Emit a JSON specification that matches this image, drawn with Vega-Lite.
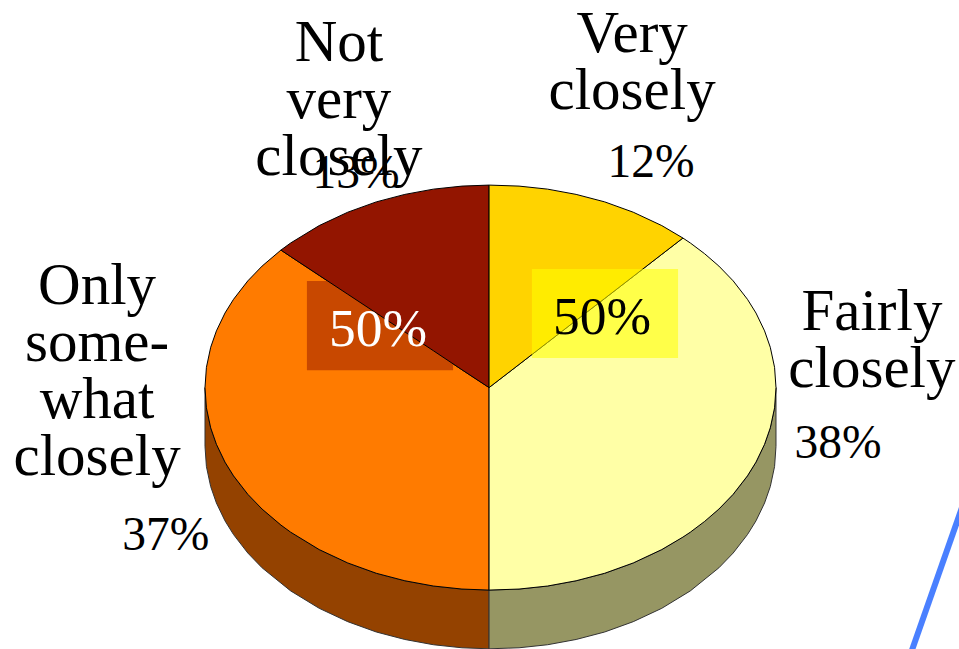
{
"$schema":"https://vega.github.io/schema/vega-lite/v6.json",
"width":959,"height":649,"padding":0,"autosize":{"type":"none"},"background":"white",
"config":{"view":{"stroke":null}},
"datasets":{
"rim":[
{"s":"Side left","u":-1,"a":0,"b":-0.29},{"s":"Side left","u":-0.995,"a":-0.0999,"b":-0.39},{"s":"Side left","u":-0.98,"a":-0.199,"b":-0.489},{"s":"Side left","u":-0.96,"a":-0.28,"b":-0.57},{"s":"Side left","u":-0.93,"a":-0.368,"b":-0.658},{"s":"Side left","u":-0.9,"a":-0.436,"b":-0.726},{"s":"Side left","u":-0.85,"a":-0.527,"b":-0.817},{"s":"Side left","u":-0.8,"a":-0.6,"b":-0.89},{"s":"Side left","u":-0.7,"a":-0.714,"b":-1.004},{"s":"Side left","u":-0.6,"a":-0.8,"b":-1.09},{"s":"Side left","u":-0.5,"a":-0.866,"b":-1.156},{"s":"Side left","u":-0.4,"a":-0.917,"b":-1.207},{"s":"Side left","u":-0.3,"a":-0.954,"b":-1.244},{"s":"Side left","u":-0.2,"a":-0.98,"b":-1.27},{"s":"Side left","u":-0.1,"a":-0.995,"b":-1.285},{"s":"Side left","u":-0.005,"a":-1,"b":-1.29},
{"s":"Side right","u":-0.005,"a":-1,"b":-1.29},{"s":"Side right","u":0.1,"a":-0.995,"b":-1.285},{"s":"Side right","u":0.2,"a":-0.98,"b":-1.27},{"s":"Side right","u":0.3,"a":-0.954,"b":-1.244},{"s":"Side right","u":0.4,"a":-0.917,"b":-1.207},{"s":"Side right","u":0.5,"a":-0.866,"b":-1.156},{"s":"Side right","u":0.6,"a":-0.8,"b":-1.09},{"s":"Side right","u":0.7,"a":-0.714,"b":-1.004},{"s":"Side right","u":0.8,"a":-0.6,"b":-0.89},{"s":"Side right","u":0.85,"a":-0.527,"b":-0.817},{"s":"Side right","u":0.9,"a":-0.436,"b":-0.726},{"s":"Side right","u":0.93,"a":-0.368,"b":-0.658},{"s":"Side right","u":0.96,"a":-0.28,"b":-0.57},{"s":"Side right","u":0.98,"a":-0.199,"b":-0.489},{"s":"Side right","u":0.995,"a":-0.0999,"b":-0.39},{"s":"Side right","u":1,"a":0,"b":-0.29}
],
"only":[
{"s":"Only somewhat closely","u":-1,"a":0,"b":0},{"s":"Only somewhat closely","u":-0.995,"a":0.0999,"b":-0.0999},{"s":"Only somewhat closely","u":-0.98,"a":0.199,"b":-0.199},{"s":"Only somewhat closely","u":-0.96,"a":0.28,"b":-0.28},{"s":"Only somewhat closely","u":-0.93,"a":0.368,"b":-0.368},{"s":"Only somewhat closely","u":-0.9,"a":0.436,"b":-0.436},{"s":"Only somewhat closely","u":-0.85,"a":0.527,"b":-0.527},{"s":"Only somewhat closely","u":-0.8,"a":0.6,"b":-0.6},{"s":"Only somewhat closely","u":-0.734,"a":0.679,"b":-0.679},{"s":"Only somewhat closely","u":-0.7,"a":0.647,"b":-0.714},{"s":"Only somewhat closely","u":-0.6,"a":0.554,"b":-0.8},{"s":"Only somewhat closely","u":-0.5,"a":0.461,"b":-0.866},{"s":"Only somewhat closely","u":-0.4,"a":0.368,"b":-0.917},{"s":"Only somewhat closely","u":-0.3,"a":0.275,"b":-0.954},{"s":"Only somewhat closely","u":-0.2,"a":0.182,"b":-0.98},{"s":"Only somewhat closely","u":-0.1,"a":0.088,"b":-0.995},{"s":"Only somewhat closely","u":-0.005,"a":0,"b":-1}
],
"others":[
{"s":"Not very closely","u":-0.734,"a":0.679,"b":0.679},{"s":"Not very closely","u":-0.7,"a":0.714,"b":0.647},{"s":"Not very closely","u":-0.6,"a":0.8,"b":0.554},{"s":"Not very closely","u":-0.5,"a":0.866,"b":0.461},{"s":"Not very closely","u":-0.4,"a":0.917,"b":0.368},{"s":"Not very closely","u":-0.3,"a":0.954,"b":0.275},{"s":"Not very closely","u":-0.2,"a":0.98,"b":0.182},{"s":"Not very closely","u":-0.1,"a":0.995,"b":0.088},{"s":"Not very closely","u":-0.005,"a":1,"b":0},
{"s":"Fairly closely","u":-0.005,"a":0,"b":-1},{"s":"Fairly closely","u":0.1,"a":0.114,"b":-0.995},{"s":"Fairly closely","u":0.2,"a":0.223,"b":-0.98},{"s":"Fairly closely","u":0.3,"a":0.332,"b":-0.954},{"s":"Fairly closely","u":0.4,"a":0.44,"b":-0.917},{"s":"Fairly closely","u":0.5,"a":0.549,"b":-0.866},{"s":"Fairly closely","u":0.6,"a":0.658,"b":-0.8},{"s":"Fairly closely","u":0.674,"a":0.7385,"b":-0.7385},{"s":"Fairly closely","u":0.7,"a":0.714,"b":-0.714},{"s":"Fairly closely","u":0.75,"a":0.661,"b":-0.661},{"s":"Fairly closely","u":0.8,"a":0.6,"b":-0.6},{"s":"Fairly closely","u":0.85,"a":0.527,"b":-0.527},{"s":"Fairly closely","u":0.9,"a":0.436,"b":-0.436},{"s":"Fairly closely","u":0.93,"a":0.368,"b":-0.368},{"s":"Fairly closely","u":0.96,"a":0.28,"b":-0.28},{"s":"Fairly closely","u":0.98,"a":0.199,"b":-0.199},{"s":"Fairly closely","u":0.995,"a":0.0999,"b":-0.0999},{"s":"Fairly closely","u":1,"a":0,"b":0},
{"s":"Very closely","u":-0.005,"a":1,"b":0},{"s":"Very closely","u":0.1,"a":0.995,"b":0.114},{"s":"Very closely","u":0.2,"a":0.98,"b":0.223},{"s":"Very closely","u":0.3,"a":0.954,"b":0.332},{"s":"Very closely","u":0.4,"a":0.917,"b":0.44},{"s":"Very closely","u":0.5,"a":0.866,"b":0.549},{"s":"Very closely","u":0.6,"a":0.8,"b":0.658},{"s":"Very closely","u":0.674,"a":0.7385,"b":0.7385}
]
},
"layer":[
{"data":{"name":"rim"},"mark":{"type":"area","stroke":"#333333","strokeWidth":1,"clip":true},
 "encoding":{"x":{"field":"u","type":"quantitative","scale":{"domain":[-1.718,1.641],"nice":false,"zero":false},"axis":null},
 "y":{"field":"a","type":"quantitative","scale":{"domain":[-1.291,1.914],"nice":false,"zero":false},"axis":null},"y2":{"field":"b"},
 "color":{"field":"s","type":"nominal","legend":null,"scale":{"domain":["Side left","Side right","Only somewhat closely","Not very closely","Fairly closely","Very closely"],"range":["#944200","#969663","#FF7B00","#931500","#FFFFA6","#FFD300"]}}}},
{"data":{"name":"only"},"mark":{"type":"area","stroke":"black","strokeWidth":1},
 "encoding":{"x":{"field":"u","type":"quantitative","axis":null},"y":{"field":"a","type":"quantitative","axis":null},"y2":{"field":"b"},"color":{"field":"s","type":"nominal","legend":null}}},
{"data":{"values":[{"u1":-0.643,"u2":-0.131,"v1":0.526,"v2":0.086}]},"mark":{"type":"rect","color":"#C84800"},
 "encoding":{"x":{"field":"u1","type":"quantitative","axis":null},"x2":{"field":"u2"},"y":{"field":"v1","type":"quantitative","axis":null},"y2":{"field":"v2"}}},
{"data":{"name":"others"},"mark":{"type":"area","stroke":"black","strokeWidth":1},
 "encoding":{"x":{"field":"u","type":"quantitative","axis":null},"y":{"field":"a","type":"quantitative","axis":null},"y2":{"field":"b"},"color":{"field":"s","type":"nominal","legend":null}}},
{"data":{"values":[{"u1":0.145,"u2":0.657,"v1":0.585,"v2":0.146}]},"mark":{"type":"rect","color":"#FFFF00","opacity":0.56},
 "encoding":{"x":{"field":"u1","type":"quantitative","axis":null},"x2":{"field":"u2"},"y":{"field":"v1","type":"quantitative","axis":null},"y2":{"field":"v2"}}},
{"data":{"values":[{"u":1.464,"v":-1.346},{"u":1.673,"v":-0.506}]},"mark":{"type":"line","color":"#4A80FF","strokeWidth":6,"clip":true},
 "encoding":{"x":{"field":"u","type":"quantitative","axis":null},"y":{"field":"v","type":"quantitative","axis":null}}},
{"data":{"values":[
{"t":"Not\nvery\nclosely","u":-0.531,"v":1.612},{"t":"Very\nclosely","u":0.496,"v":1.657},{"t":"Fairly\nclosely","u":1.336,"v":0.284},{"t":"Only\nsome-\nwhat\nclosely","u":-1.378,"v":0.412}
]},"mark":{"type":"text","font":"Liberation Serif","fontSize":59,"color":"black","align":"center","baseline":"alphabetic","lineBreak":"\n","lineHeight":57},
 "encoding":{"x":{"field":"u","type":"quantitative","axis":null},"y":{"field":"v","type":"quantitative","axis":null},"text":{"field":"t"}}},
{"data":{"values":[
{"t":"12%","u":0.562,"v":1.04},{"t":"13%","u":-0.471,"v":0.985},{"t":"38%","u":1.217,"v":-0.348},{"t":"37%","u":-1.137,"v":-0.802}
]},"mark":{"type":"text","font":"Liberation Serif","fontSize":47.5,"color":"black","align":"center","baseline":"alphabetic"},
 "encoding":{"x":{"field":"u","type":"quantitative","axis":null},"y":{"field":"v","type":"quantitative","axis":null},"text":{"field":"t"}}},
{"data":{"values":[{"t":"50%","u":0.391,"v":0.264}]},"mark":{"type":"text","font":"Liberation Serif","fontSize":53.5,"color":"black","align":"center","baseline":"alphabetic"},
 "encoding":{"x":{"field":"u","type":"quantitative","axis":null},"y":{"field":"v","type":"quantitative","axis":null},"text":{"field":"t"}}},
{"data":{"values":[{"t":"50%","u":-0.394,"v":0.205}]},"mark":{"type":"text","font":"Liberation Serif","fontSize":53.5,"color":"white","align":"center","baseline":"alphabetic"},
 "encoding":{"x":{"field":"u","type":"quantitative","axis":null},"y":{"field":"v","type":"quantitative","axis":null},"text":{"field":"t"}}}
]
}
